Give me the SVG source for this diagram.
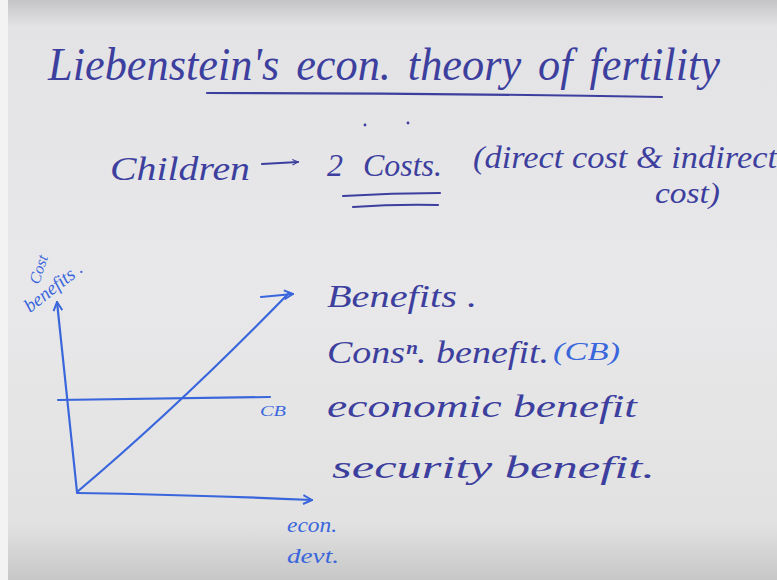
<svg xmlns="http://www.w3.org/2000/svg" width="777" height="580" viewBox="0 0 777 580">
  <defs>
    <linearGradient id="bg" x1="0" y1="0" x2="0" y2="1">
      <stop offset="0" stop-color="#c4c4c6"/>
      <stop offset="0.045" stop-color="#e3e3e5"/>
      <stop offset="0.5" stop-color="#e8e8ea"/>
      <stop offset="0.9" stop-color="#e2e2e2"/>
      <stop offset="1" stop-color="#c7c7c7"/>
    </linearGradient>
    <marker id="headDark" viewBox="0 0 10 10" refX="9" refY="5" markerWidth="7" markerHeight="7" orient="auto" markerUnits="userSpaceOnUse">
      <path d="M1,1 L9,5 L1,9" fill="none" stroke="#3d3f9e" stroke-width="1.6"/>
    </marker>
    <marker id="headBlue" viewBox="0 0 10 10" refX="9" refY="5" markerWidth="11" markerHeight="11" orient="auto" markerUnits="userSpaceOnUse">
      <path d="M1,1 L9,5 L1,9" fill="none" stroke="#3a66dc" stroke-width="1.8" stroke-linejoin="round"/>
    </marker>
  </defs>
  <style>
    .ink { font-family: "Liberation Serif", "DejaVu Serif", serif; font-style: italic; fill: #3d3f9e; }
    .blue { font-family: "Liberation Serif", "DejaVu Serif", serif; font-style: italic; fill: #3a66dc; }
    .line { fill: none; stroke: #3a66dc; stroke-width: 2.2; stroke-linecap: round; stroke-linejoin: round; }
    .dline { fill: none; stroke: #3d3f9e; stroke-width: 2.2; stroke-linecap: round; }
  </style>

  <rect x="0" y="0" width="777" height="580" fill="url(#bg)"/>
  <rect x="0" y="0" width="8" height="580" fill="#f3f3f4"/>

  <g id="title">
    <text class="ink" x="48" y="80" font-size="46" word-spacing="6" textLength="672" lengthAdjust="spacingAndGlyphs">Liebenstein's econ. theory of fertility</text>
    <path class="dline" d="M207,93 Q430,93 662,97"/>
  </g>

  <g id="costs-line">
    <text class="ink" x="110" y="180" font-size="34" textLength="140" lengthAdjust="spacingAndGlyphs">Children</text>
    <line class="dline" x1="262" y1="164" x2="298" y2="162" marker-end="url(#headDark)"/>
    <text class="ink" x="327" y="176" font-size="32">2</text>
    <text class="ink" x="363" y="176" font-size="32" textLength="79" lengthAdjust="spacingAndGlyphs">Costs.</text>
    <circle cx="365" cy="125" r="1.4" fill="#3d3f9e"/>
    <circle cx="408" cy="123" r="1.4" fill="#3d3f9e"/>
    <path class="dline" d="M343,196 Q392,193 440,193"/>
    <path class="dline" d="M353,207 Q396,204 438,205"/>
    <text class="ink" x="473" y="168" font-size="32" textLength="304" lengthAdjust="spacingAndGlyphs">(direct cost &amp; indirect</text>
    <text class="ink" x="655" y="203" font-size="30" textLength="65" lengthAdjust="spacingAndGlyphs">cost)</text>
  </g>

  <g id="connectors">
    <path id="y-axis" class="line" d="M77,492 L57,302" marker-end="url(#headBlue)"/>
    <path id="x-axis" class="line" d="M77,493 Q200,495 312,500" marker-end="url(#headBlue)"/>
    <path id="cb-line" class="line" d="M58,400 L270,397"/>
    <path id="benefit-line" class="line" d="M77,492 Q180,405 289,293"/>
    <line id="benefit-arrow" class="line" x1="261" y1="297" x2="293" y2="294" marker-end="url(#headBlue)"/>
  </g>

  <g id="axis-labels">
    <text class="blue" font-size="16" transform="translate(39,285) rotate(-72)">Cost</text>
    <text class="blue" font-size="19" transform="translate(30,313) rotate(-38)">benefits .</text>
    <text class="blue" x="260" y="416" font-size="15" textLength="26" lengthAdjust="spacingAndGlyphs">CB</text>
    <text class="blue" x="287" y="532" font-size="21" textLength="50" lengthAdjust="spacingAndGlyphs">econ.</text>
    <text class="blue" x="287" y="563" font-size="21" textLength="52" lengthAdjust="spacingAndGlyphs">devt.</text>
  </g>

  <g id="benefits-list">
    <text class="ink" x="327" y="307" font-size="32" textLength="150" lengthAdjust="spacingAndGlyphs">Benefits .</text>
    <text class="ink" x="327" y="363" font-size="32" textLength="222" lengthAdjust="spacingAndGlyphs">Consⁿ. benefit.</text>
    <text class="blue" x="553" y="360" font-size="26" textLength="67" lengthAdjust="spacingAndGlyphs">(CB)</text>
    <text class="ink" x="327" y="417" font-size="32" textLength="310" lengthAdjust="spacingAndGlyphs">economic   benefit</text>
    <text class="ink" x="332" y="478" font-size="32" textLength="323" lengthAdjust="spacingAndGlyphs">security     benefit.</text>
  </g>
</svg>
